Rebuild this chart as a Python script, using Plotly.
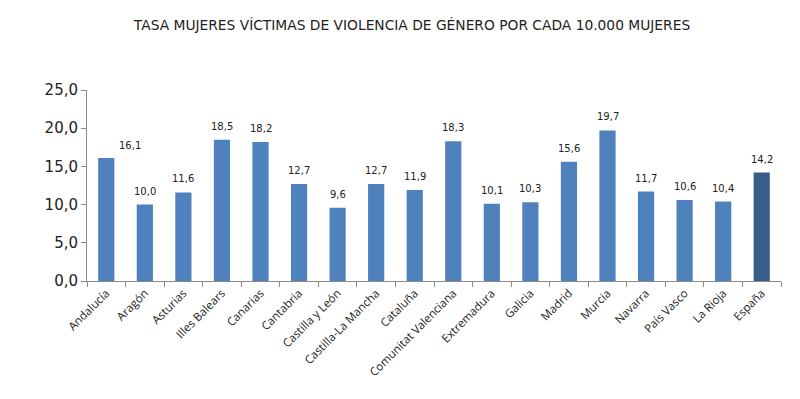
import plotly.graph_objects as go

categories = ["Andalucía", "Aragón", "Asturias", "Illes Balears", "Canarias", "Cantabria",
              "Castilla y León", "Castilla-La Mancha", "Cataluña", "Comunitat Valenciana",
              "Extremadura", "Galicia", "Madrid", "Murcia", "Navarra", "País Vasco",
              "La Rioja", "España"]
values = [16.1, 10.0, 11.6, 18.5, 18.2, 12.7, 9.6, 12.7, 11.9, 18.3,
          10.1, 10.3, 15.6, 19.7, 11.7, 10.6, 10.4, 14.2]
y_ticks = [0, 5, 10, 15, 20, 25]

colors = ["#4F81BD"] * (len(categories) - 1) + ["#385D8A"]

fig = go.Figure()
fig.add_trace(go.Bar(
    x=categories, y=values, marker=dict(color=colors, line=dict(width=0)),
    width=0.42, hoverinfo="skip"
))

for i, (c, v) in enumerate(zip(categories, values)):
    fig.add_annotation(
        x=c, y=v, text=f"{v:.1f}".replace(".", ","), showarrow=False,
        yanchor="bottom", yshift=6 if i else 5, xshift=24 if i == 0 else 0,
        font=dict(family="DejaVu Sans", size=10, color="#222222")
    )

fig.update_layout(
    width=800, height=399,
    margin=dict(l=79, r=27, t=82, b=126, autoexpand=False),
    paper_bgcolor="white", plot_bgcolor="white",
    separators=",.",
    showlegend=False,
    title=dict(text="TASA MUJERES VÍCTIMAS DE VIOLENCIA DE GÉNERO POR CADA 10.000 MUJERES",
               x=0.505, xanchor="center", y=0.957, yanchor="middle",
               font=dict(family="DejaVu Sans", size=13.8, color="#222222")),
    bargap=0.58,
)
fig.update_yaxes(
    range=[0, 25], tickvals=y_ticks, tickformat=".1f",
    showgrid=False, zeroline=False, automargin=False,
    showline=True, linecolor="#8C8C8C", linewidth=1,
    ticks="outside", ticklen=5, tickcolor="#8C8C8C",
    tickfont=dict(family="DejaVu Sans", size=15, color="#222222"),
)
fig.update_xaxes(
    showgrid=False, showline=True, linecolor="#8C8C8C", linewidth=1, automargin=False,
    ticks="outside", ticklen=5, tickcolor="#8C8C8C", tickson="boundaries",
    tickangle=-45,
    tickfont=dict(family="Open Sans", size=11.5, color="#222222"),
)

fig.write_html("out.html")
